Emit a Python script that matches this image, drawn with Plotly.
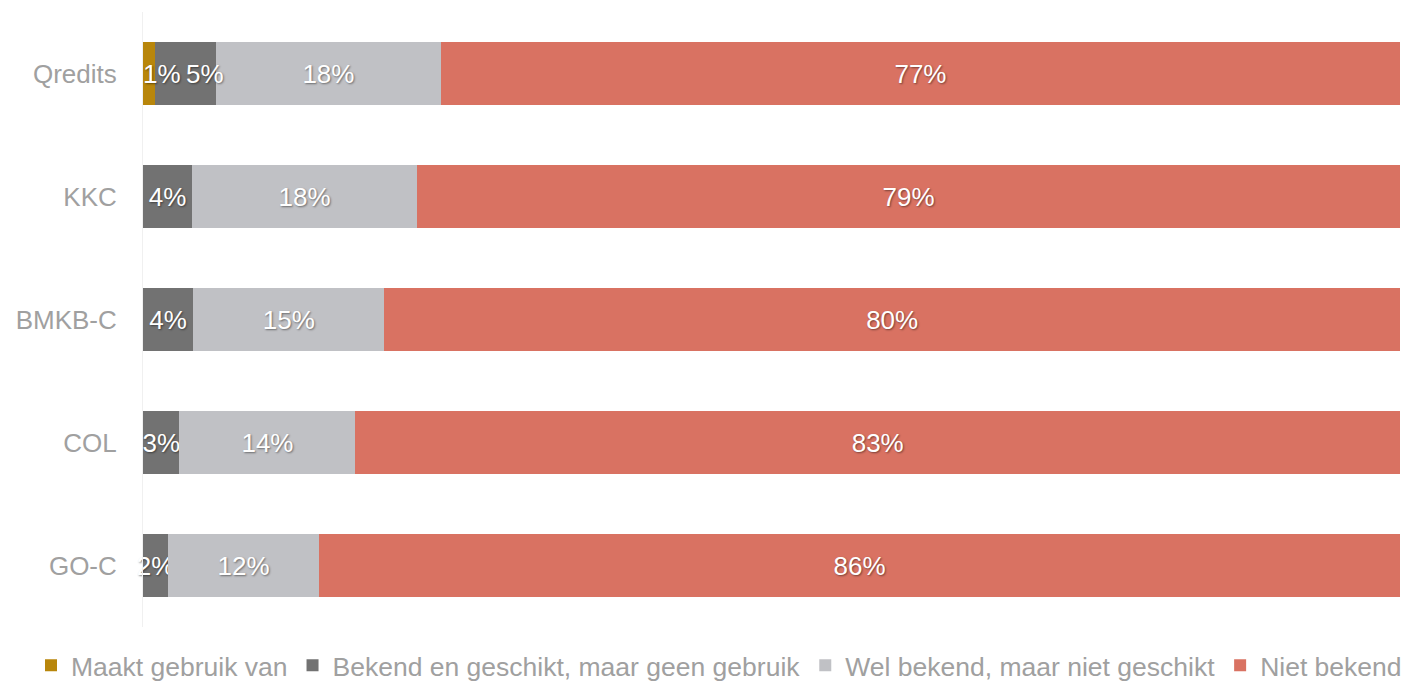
import plotly.graph_objects as go

categories = ["Qredits", "KKC", "BMKB-C", "COL", "GO-C"]
series_names = ["Maakt gebruik van", "Bekend en geschikt, maar geen gebruik",
                "Wel bekend, maar niet geschikt", "Niet bekend"]

maakt_gebruik = [0.95, 0, 0, 0, 0]
bekend_geschikt = [4.85, 3.9, 4.0, 2.9, 2.0]
wel_bekend = [17.9, 17.9, 15.2, 14.0, 12.0]
niet_bekend = [76.3, 78.2, 80.8, 83.1, 86.0]

maakt_labels = ["1%", "", "", "", ""]
bekend_labels = ["5%", "4%", "4%", "3%", "2%"]
wel_labels = ["18%", "18%", "15%", "14%", "12%"]
niet_labels = ["77%", "79%", "80%", "83%", "86%"]

colors = ["#B8860B", "#727272", "#C0C1C5", "#D97262"]

values = [maakt_gebruik, bekend_geschikt, wel_bekend, niet_bekend]
labels = [maakt_labels, bekend_labels, wel_labels, niet_labels]

label_font = dict(color="white", size=26, family="Liberation Sans",
                  shadow="1px 1px 2px rgba(0,0,0,0.45)")

fig = go.Figure()
for si, (name, vals, labs, col) in enumerate(zip(series_names, values, labels, colors)):
    # first row's two tiny segments: labels are drawn as annotations (shifted apart)
    bar_labs = ["" if (ri == 0 and si < 2) else l for ri, l in enumerate(labs)]
    fig.add_trace(go.Bar(
        y=categories, x=vals, name=name, orientation="h",
        marker=dict(color=col, line=dict(width=0)),
        text=bar_labs, textposition="inside", insidetextanchor="middle",
        textangle=0, constraintext="none",
        textfont=label_font,
        cliponaxis=False,
        hoverinfo="skip",
    ))

# labels of the two narrow segments in the first row, pushed apart so they don't overlap
start = 0.0
shifts = [13, 20]
for si in range(2):
    v = values[si][0]
    fig.add_annotation(x=start + v / 2, y=categories[0], text=labels[si][0],
                       showarrow=False, xshift=shifts[si], font=label_font)
    start += v

fig.update_layout(
    barmode="stack",
    bargap=0.49,
    width=1407, height=698,
    margin=dict(l=143, r=7, t=12, b=70.5),
    paper_bgcolor="white", plot_bgcolor="white",
    font=dict(family="Liberation Sans", size=26, color="#A0A0A0"),
    uniformtext=dict(mode="show", minsize=26),
    showlegend=True,
    legend=dict(orientation="h", x=-0.0851, xanchor="left", y=-0.0235, yanchor="top",
                font=dict(size=26.5, color="#A0A0A0"), traceorder="normal",
                itemwidth=30, tracegroupgap=0),
    xaxis=dict(range=[0, 100], showgrid=False, zeroline=False, showticklabels=False,
               showline=False, fixedrange=True, automargin=False),
    yaxis=dict(categoryorder="array", categoryarray=categories[::-1],
               showgrid=False, zeroline=False, showline=True, linecolor="#F0F0F0",
               linewidth=1, ticks="", ticklabelstandoff=20, automargin=False,
               tickfont=dict(size=26, color="#A0A0A0")),
)

# remove the browser's default page margin so the 1407x698 figure fills the window exactly
fig.write_html("out.html", config={"displayModeBar": False},
               post_script="document.body.style.margin='0';document.body.style.overflow='hidden';")
